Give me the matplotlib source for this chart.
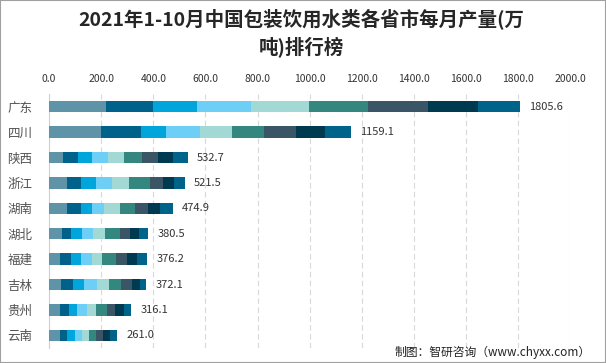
import matplotlib
matplotlib.use("Agg")
import matplotlib.pyplot as plt
import numpy as np

plt.rcParams['font.family'] = ['Noto Sans CJK SC', 'DejaVu Sans']

provinces = ["广东", "四川", "陕西", "浙江", "湖南", "湖北", "福建", "吉林", "贵州", "云南"]
totals = [1805.6, 1159.1, 532.7, 521.5, 474.9, 380.5, 376.2, 372.1, 316.1, 261.0]
months = ["1-2月", "3月", "4月", "5月", "6月", "7月", "8月", "9月", "10月"]

# monthly output per province (万吨)
gd = [217.0, 183.0, 168.3, 206.7, 221.3, 225.8, 233.3, 190.4, 159.8]
sc = [198.0, 153.5, 99.0, 130.0, 122.5, 122.5, 121.0, 113.0, 99.6]
sx = [53.5, 57.6, 53.5, 60.5, 62.0, 68.0, 62.5, 58.0, 57.1]
zj = [69.0, 53.7, 57.5, 61.3, 65.2, 80.5, 49.9, 42.2, 42.2]
hn = [69.0, 53.7, 42.2, 46.0, 60.1, 58.8, 50.0, 46.5, 48.6]
hb = [49.8, 34.5, 42.2, 42.2, 46.0, 57.5, 39.0, 34.8, 34.5]
fj = [42.2, 42.2, 38.3, 42.2, 38.3, 53.7, 42.2, 38.6, 38.5]
jl = [46.0, 46.0, 42.2, 49.8, 46.0, 46.0, 42.4, 30.7, 23.0]
gz = [42.2, 34.5, 31.0, 38.3, 34.5, 42.2, 31.4, 34.8, 27.2]
yn = [42.2, 26.8, 30.7, 26.8, 26.8, 26.9, 26.8, 26.8, 27.2]
data = np.array([gd, sc, sx, zj, hn, hb, fj, jl, gz, yn])

colors = ["#5F93A8", "#00628A", "#00A5DC", "#6DCFF6", "#A2D9D5",
          "#33877E", "#3A5565", "#003A50", "#006389"]

fig = plt.figure(figsize=(6.06, 3.63), dpi=100)
ax = fig.add_axes([0.081, 0.041, 0.86, 0.70])

y = np.arange(len(provinces))
left = np.zeros(len(provinces))
for i, m in enumerate(months):
    ax.barh(y, data[:, i], left=left, height=0.45, color=colors[i], label=m, zorder=3)
    left += data[:, i]

for yi, t, l in zip(y, totals, left):
    ax.text(l + 35, yi, "%.1f" % t, va='center', ha='left', fontsize=8, color='#333333')

ax.set_ylim(len(provinces) - 0.5, -0.5)
ax.set_xlim(0, 2000)
ax.set_xticks(np.arange(0, 2001, 200))
ax.set_xticklabels(["%.1f" % v for v in np.arange(0, 2001, 200)])
ax.xaxis.tick_top()
ax.tick_params(axis='x', length=0, labelsize=7.5, colors='#333333', pad=7)
ax.set_yticks(y)
ax.set_yticklabels(provinces)
ax.tick_params(axis='y', length=0, labelsize=9, colors='#505050', pad=12)
ax.grid(axis='x', color='#D9D9D9', linestyle=(0, (5, 3)), linewidth=0.8, zorder=0)
for s in ['top', 'right', 'bottom']:
    ax.spines[s].set_visible(False)
ax.spines['left'].set_color('#D0D0D0')

fig.text(0.497, 0.948, "2021年1-10月中国包装饮用水类各省市每月产量(万", ha='center', va='center',
         fontsize=14, fontweight='bold', color='#262626')
fig.text(0.497, 0.870, "吨)排行榜", ha='center', va='center',
         fontsize=14, fontweight='bold', color='#262626')
fig.text(0.975, 0.03, "制图：智研咨询（www.chyxx.com）", ha='right', va='center',
         fontsize=8.5, color='#222222')

fig.patches.append(plt.Rectangle((0, 0), 1, 1, transform=fig.transFigure, fill=False,
                                 edgecolor='#A0A0A0', linewidth=1.5))

fig.savefig("out.png", dpi=100)
